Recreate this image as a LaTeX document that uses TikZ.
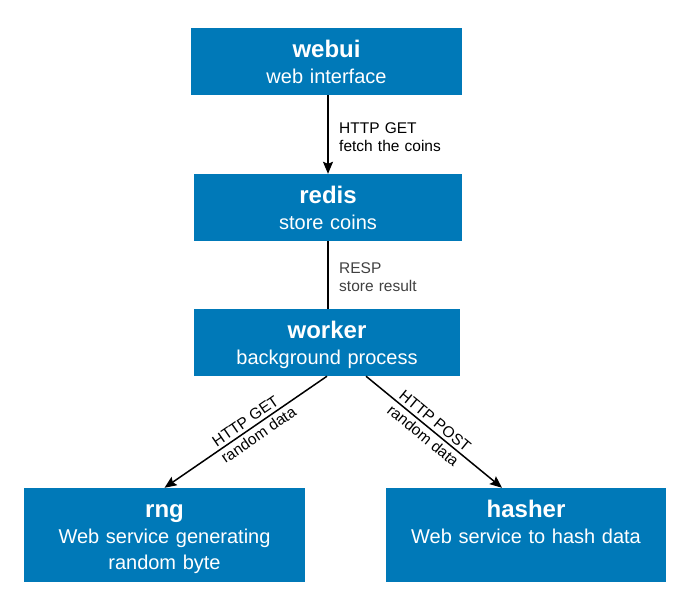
\documentclass[tikz,border=0pt]{standalone}
\usepackage{fontspec}
\setmainfont{Liberation Sans}
\usetikzlibrary{arrows.meta,calc,positioning}
\tikzset{>={Stealth[length=12pt,width=10pt,inset=2pt]}}
\definecolor{svcblue}{RGB}{0,121,184}
\definecolor{respgray}{RGB}{64,64,64}
\tikzset{
  svcbox/.style={fill=svcblue, inner sep=0pt},
  svctxt/.style={text=white, inner sep=0pt, align=center, anchor=base, font=\fontsize{20}{26}\selectfont},
  lbl/.style={font=\fontsize{15.5}{18}\selectfont, align=left, inner sep=0pt},
  arlbl/.style={font=\fontsize{15.5}{18}\selectfont, inner sep=3pt, sloped},
  link/.style={line width=1.5pt}
}
\newcommand{\svctitle}[1]{{\fontsize{24}{26}\selectfont\bfseries #1}}

\begin{document}
\begin{tikzpicture}[x=1pt,y=-1pt]
  \useasboundingbox (0,0) rectangle (680,596);
  \def\toff{30} % title baseline below box top
  % service boxes
  \node[svcbox, minimum width=271pt, minimum height=67pt] (webui) at (326.5,61.5) {};
  \node[svcbox, minimum width=268pt, minimum height=67pt] (redis) at (328,207.5) {};
  \node[svcbox, minimum width=266pt, minimum height=67pt] (worker) at (327,342.5) {};
  \node[svcbox, minimum width=281pt, minimum height=94pt] (rng) at (164.5,535) {};
  \node[svcbox, minimum width=280pt, minimum height=94pt] (hasher) at (526,535) {};
  % box texts
  \node[svctxt, text width=271pt] (webui-txt) at ($(webui.north)+(0,\toff)$) {\svctitle{webui}\\web interface};
  \node[svctxt, text width=268pt] (redis-txt) at ($(redis.north)+(0,\toff)$) {\svctitle{redis}\\store coins};
  \node[svctxt, text width=266pt] (worker-txt) at ($(worker.north)+(0,\toff)$) {\svctitle{worker}\\background process};
  \node[svctxt, text width=281pt] (rng-txt) at ($(rng.north)+(0,\toff)$) {\svctitle{rng}\\Web service generating\\random byte};
  \node[svctxt, text width=280pt] (hasher-txt) at ($(hasher.north)+(0,\toff)$) {\svctitle{hasher}\\Web service to hash data};
  % links
  \draw[link,->] (redis.north |- webui.south) -- (redis.north);
  \node[lbl, anchor=base west, text width=130pt] (get-lbl) at (339,134) {HTTP GET\\fetch the coins};
  \draw[link] (redis.south) -- (redis.south |- worker.north);
  \node[lbl, anchor=base west, text width=130pt, text=respgray] (resp-lbl) at (339,273) {RESP\\store result};
  \draw[link,->] (worker.south) -- node[arlbl, above, pos=0.47] {HTTP GET} node[arlbl, below, pos=0.455] {random data} (rng.north);
  \draw[link,->] ($(worker.south)+(39,0)$) -- node[arlbl, above, pos=0.465] {HTTP POST} node[arlbl, below, pos=0.465] {random data} ($(hasher.north)+(-24,0)$);
\end{tikzpicture}
\end{document}
